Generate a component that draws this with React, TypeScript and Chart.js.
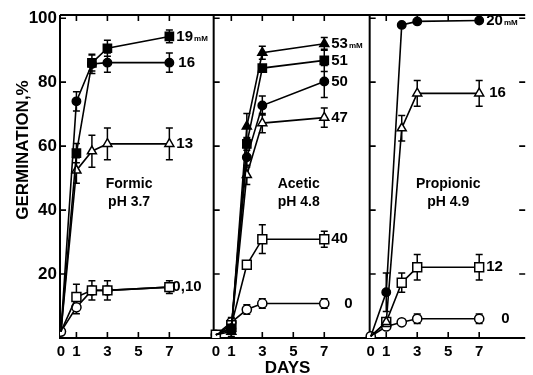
import React, { useEffect, useRef } from 'react';
import { Chart, registerables } from 'chart.js';

Chart.register(...registerables);

// ---------- data ----------
const DAYS = [0, 1, 2, 3, 7];
const X_TICK_DAYS = [0, 1, 3, 5, 7];
const Y_TICKS = [20, 40, 60, 80, 100];
const PANEL_SHIFT = 10; // each panel is its own 0..10 day window on a shared axis
const PANEL_ACIDS = ['Formic', 'Acetic', 'Propionic'];
const PANEL_PH = ['pH 3.7', 'pH 4.8', 'pH 4.9'];

// Formic, pH 3.7
const formic19 = [2, 57.8, 86, 90.6, 94.3];
const formic19Err = [0, 3, 2.5, 2.5, 2];
const formic16 = [2, 74, 85.7, 86.1, 86.1];
const formic16Err = [0, 3, 3, 3, 3];
const formic13 = [2, 52.4, 58.4, 60.7, 60.7];
const formic13Err = [0, 4, 5, 5, 5];
const formic10 = [2, 12.8, 14.9, 14.9, 15.9];
const formic10Err = [0, 4, 3, 3, 2];
const formic0 = [2, 9.6, 14.9, 14.9, 15.9];
const formic0Err = [0, 2, 0, 0, 0];

// Acetic, pH 4.8
const acetic53 = [1, 2, 66.2, 89.2, 92];
const acetic53Err = [0, 1.5, 4, 2, 2];
const acetic51 = [1, 3, 60.7, 84.4, 86.8];
const acetic51Err = [0, 0, 2, 1, 3.5];
const acetic50 = [1, 3, 56.5, 72.7, 80.2];
const acetic50Err = [0, 0, 3, 3, 5];
const acetic47 = [1, 3, 51, 67.2, 68.9];
const acetic47Err = [0, 0, 3, 3, 3];
const acetic40 = [1, 4, 22.9, 30.9, 30.9];
const acetic40Err = [0, 0, 1, 4.5, 2.5];
const acetic0 = [1, 4.9, 8.9, 10.8, 10.8];
const acetic0Err = [0, 1.5, 1.5, 1.5, 1.5];

// Propionic, pH 4.9
const prop20 = [0.5, 14.3, 97.9, 99, 99.3];
const prop20Err = [0, 6, 0, 0, 0];
const prop16 = [0.5, 5, 65.6, 76.5, 76.5];
const prop16Err = [0, 0, 4, 4, 4];
const prop12 = [0.5, 5, 17.3, 22.1, 22.1];
const prop12Err = [0, 0, 3, 4, 4];
const prop0 = [0.5, 3.6, 4.9, 6, 6];
const prop0Err = [0, 0, 0, 1.5, 1.5];

type Series = {
  panel: number;
  values: number[];
  errors: number[];
  label: string;
  unit?: string;
  marker: 'rect' | 'circle' | 'triangle';
  filled: boolean;
  showStart?: boolean;
  gap?: number;
};

const SERIES: Series[] = [
  { panel: 0, values: formic19, errors: formic19Err, label: '19', unit: 'mM', marker: 'rect', filled: true },
  { panel: 0, values: formic16, errors: formic16Err, label: '16', marker: 'circle', filled: true, gap: 9 },
  { panel: 0, values: formic13, errors: formic13Err, label: '13', marker: 'triangle', filled: false },
  { panel: 0, values: formic10, errors: formic10Err, label: '0,10', marker: 'rect', filled: false, gap: 3 },
  { panel: 0, values: formic0, errors: formic0Err, label: '', marker: 'circle', filled: false, showStart: true },
  { panel: 1, values: acetic53, errors: acetic53Err, label: '53', unit: 'mM', marker: 'triangle', filled: true },
  { panel: 1, values: acetic51, errors: acetic51Err, label: '51', marker: 'rect', filled: true },
  { panel: 1, values: acetic50, errors: acetic50Err, label: '50', marker: 'circle', filled: true },
  { panel: 1, values: acetic47, errors: acetic47Err, label: '47', marker: 'triangle', filled: false },
  { panel: 1, values: acetic40, errors: acetic40Err, label: '40', marker: 'rect', filled: false, showStart: true },
  { panel: 1, values: acetic0, errors: acetic0Err, label: '0', marker: 'circle', filled: false, showStart: true, gap: 20 },
  { panel: 2, values: prop20, errors: prop20Err, label: '20', unit: 'mM', marker: 'circle', filled: true },
  { panel: 2, values: prop16, errors: prop16Err, label: '16', marker: 'triangle', filled: false, gap: 10 },
  { panel: 2, values: prop12, errors: prop12Err, label: '12', marker: 'rect', filled: false },
  { panel: 2, values: prop0, errors: prop0Err, label: '0', marker: 'circle', filled: false, showStart: true, gap: 22 },
];

const FONT = "'Liberation Sans', Arial, Helvetica, sans-serif";

function markerRadius(s: Series) {
  if (s.marker === 'rect') return s.filled ? 5.8 : 6.3;
  if (s.marker === 'triangle') return 5.2;
  return s.filled ? 4.2 : 4.6;
}

const framePlugin = {
  id: 'frame',
  beforeDatasetsDraw(chart: any) {
    const { ctx, chartArea, scales } = chart;
    const xs = scales.x;
    const ys = scales.y;
    const { left, right, top, bottom } = chartArea;
    ctx.save();
    ctx.strokeStyle = '#000';
    ctx.lineWidth = 2;
    ctx.lineCap = 'butt';
    // frame
    ctx.beginPath();
    ctx.moveTo(left, top);
    ctx.lineTo(right, top);
    ctx.moveTo(left, top);
    ctx.lineTo(left, bottom);
    ctx.moveTo(left - 1, bottom);
    ctx.lineTo(right, bottom);
    // separators
    [9.86, 19.93].forEach((v) => {
      const px = xs.getPixelForValue(v);
      ctx.moveTo(px, top);
      ctx.lineTo(px, bottom);
    });
    ctx.stroke();
    // inward x ticks (bottom & top)
    ctx.lineWidth = 1.6;
    ctx.beginPath();
    for (let p = 0; p < 3; p++) {
      X_TICK_DAYS.forEach((d) => {
        if (d === 0) return;
        const px = xs.getPixelForValue(d + p * PANEL_SHIFT);
        ctx.moveTo(px, bottom);
        ctx.lineTo(px, bottom - 6);
        ctx.moveTo(px, top);
        ctx.lineTo(px, top + 6);
      });
    }
    // inward y ticks at each panel's left edge and at the far right
    const lefts = [left, xs.getPixelForValue(9.86), xs.getPixelForValue(19.93)];
    Y_TICKS.forEach((v) => {
      const py = ys.getPixelForValue(v);
      lefts.forEach((lx) => {
        ctx.moveTo(lx, py);
        ctx.lineTo(lx + 6, py);
      });
      ctx.moveTo(right, py);
      ctx.lineTo(right - 6, py);
    });
    ctx.stroke();

    // error bars
    ctx.lineWidth = 1.5;
    ctx.beginPath();
    SERIES.forEach((s, i) => {
      const meta = chart.getDatasetMeta(i);
      s.errors.forEach((e, j) => {
        if (!e) return;
        const el = meta.data[j];
        const x = el.x;
        const y1 = ys.getPixelForValue(s.values[j] + e);
        const y2 = ys.getPixelForValue(s.values[j] - e);
        ctx.moveTo(x, y1);
        ctx.lineTo(x, y2);
        ctx.moveTo(x - 3.5, y1);
        ctx.lineTo(x + 3.5, y1);
        ctx.moveTo(x - 3.5, y2);
        ctx.lineTo(x + 3.5, y2);
      });
    });
    ctx.stroke();
    ctx.restore();
  },
  afterDatasetsDraw(chart: any) {
    const { ctx, chartArea, scales } = chart;
    const xs = scales.x;
    const ys = scales.y;
    ctx.save();
    ctx.fillStyle = '#000';
    ctx.textBaseline = 'middle';
    // end labels
    SERIES.forEach((s, i) => {
      if (!s.label) return;
      const meta = chart.getDatasetMeta(i);
      const el = meta.data[meta.data.length - 1];
      const x = el.x + (s.gap ?? 7);
      const y = el.y;
      ctx.textAlign = 'left';
      ctx.font = `bold 15px ${FONT}`;
      ctx.fillText(s.label, x, y);
      if (s.unit) {
        const w = ctx.measureText(s.label).width;
        ctx.font = `bold 8px ${FONT}`;
        ctx.fillText(s.unit, x + w + 1, y + 2);
      }
    });
    // panel captions
    ctx.textAlign = 'center';
    ctx.font = `bold 14px ${FONT}`;
    const captionDay = [4.4, 5.35, 5.0];
    for (let p = 0; p < 3; p++) {
      const cx = xs.getPixelForValue(captionDay[p] + p * PANEL_SHIFT);
      ctx.fillText(PANEL_ACIDS[p], cx, ys.getPixelForValue(48.2));
      ctx.fillText(PANEL_PH[p], cx, ys.getPixelForValue(42.4));
    }
    // axis titles
    ctx.font = `bold 17px ${FONT}`;
    ctx.fillText('DAYS', (chartArea.left + chartArea.right) / 2 - 5, 368);
    ctx.translate(23, 150);
    ctx.rotate(-Math.PI / 2);
    ctx.fillText('GERMINATION,%', 0, 0);
    ctx.restore();
  },
};

export default function App() {
  const ref = useRef<HTMLCanvasElement>(null);

  useEffect(() => {
    if (!ref.current) return;
    const datasets = SERIES.map((s) => {
      const r = markerRadius(s);
      return {
        label: `${PANEL_ACIDS[s.panel]} ${s.label}${s.unit ?? ''}`,
        data: DAYS.map((d, j) => ({ x: d + s.panel * PANEL_SHIFT, y: s.values[j] })),
        showLine: true,
        borderColor: '#000',
        borderWidth: 1.6,
        pointStyle: s.marker,
        pointRadius: DAYS.map((_, j) => (j === 0 && !s.showStart ? 0 : r)),
        pointBackgroundColor: s.filled ? '#000' : '#fff',
        pointBorderColor: '#000',
        pointBorderWidth: 1.5,
        fill: false,
        tension: 0,
      };
    });

    const chart = new Chart(ref.current, {
      type: 'scatter',
      data: { datasets },
      plugins: [framePlugin],
      options: {
        animation: false,
        responsive: false,
        devicePixelRatio: 1,
        layout: { padding: { top: 15, right: 0, left: 0, bottom: 0 } },
        plugins: { legend: { display: false }, tooltip: { enabled: false } },
        scales: {
          x: {
            type: 'linear',
            min: -0.06,
            max: 29.97,
            grid: { display: false, drawTicks: false },
            border: { display: false },
            afterBuildTicks: (axis: any) => {
              const t: { value: number }[] = [];
              for (let p = 0; p < 3; p++) X_TICK_DAYS.forEach((d) => t.push({ value: d + p * PANEL_SHIFT }));
              axis.ticks = t;
            },
            afterFit: (axis: any) => {
              axis.height = 37;
            },
            ticks: {
              autoSkip: false,
              maxRotation: 0,
              padding: 5,
              color: '#000',
              font: { family: FONT, size: 15, weight: 'bold' },
              callback: (v: any) => String(Math.round(Number(v)) % PANEL_SHIFT),
            },
          },
          y: {
            type: 'linear',
            min: 0,
            max: 101,
            grid: { display: false, drawTicks: false },
            border: { display: false },
            afterBuildTicks: (axis: any) => {
              axis.ticks = Y_TICKS.map((v) => ({ value: v }));
            },
            afterFit: (axis: any) => {
              axis.width = 60;
            },
            ticks: {
              padding: 3,
              color: '#000',
              font: { family: FONT, size: 17, weight: 'bold' },
            },
          },
        },
      },
    } as any);
    return () => chart.destroy();
  }, []);

  return (
    <div style={{ position: 'fixed', left: 0, top: 0, width: 533, height: 375, background: '#fff' }}>
      <canvas ref={ref} width={533} height={375} style={{ width: 533, height: 375, display: 'block' }} />
    </div>
  );
}
